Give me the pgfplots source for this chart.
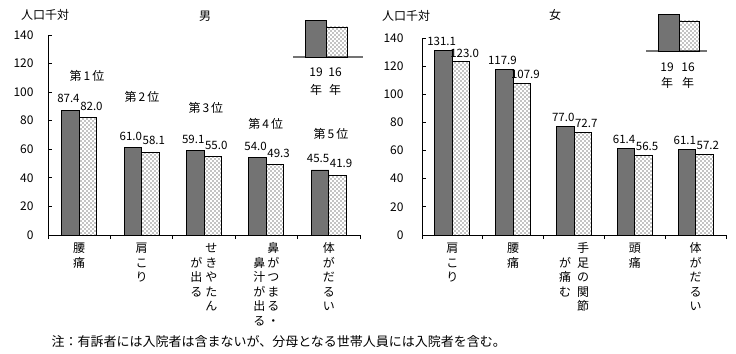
\documentclass[border=0pt]{standalone}
\usepackage{fontspec}
\setmainfont{Noto Sans CJK JP}
\usepackage{pgfplots}
\usepackage{pgfplotstable}
\pgfplotsset{compat=1.18}
\usetikzlibrary{patterns}
\pgfdeclarepatternformonly{sparsedots}{\pgfqpoint{-1bp}{-1bp}}{\pgfqpoint{5bp}{5bp}}{\pgfqpoint{4bp}{4bp}}{%
  \pgfpathcircle{\pgfqpoint{1bp}{1bp}}{0.55bp}%
  \pgfpathcircle{\pgfqpoint{3bp}{3bp}}{0.55bp}%
  \pgfusepath{fill}}
\newcommand{\vone}[1]{\begin{tabular}[t]{@{}c@{}}#1\end{tabular}}
\newcommand{\fs}{\fontsize{12bp}{14.5bp}\selectfont}
\newcommand{\fv}{\fontsize{11.5bp}{14bp}\selectfont}

\pgfplotstableread{
x a b
1 87.4 82.0
2 61.0 58.1
3 59.1 55.0
4 54.0 49.3
5 45.5 41.9
}\male
\pgfplotstableread{
x a b
1 131.1 123.0
2 117.9 107.9
3 77.0 72.7
4 61.4 56.5
5 61.1 57.2
}\female

\pgfplotsset{
  /pgf/number format/assume math mode=true,
  panel/.style={
    scale only axis, clip=false,
    ymin=0, ymax=140, xmin=0.5, xmax=5.5,
    ytick={0,20,...,140},
    axis x line*=bottom, axis y line*=left,
    axis line style={black, line width=0.9bp},
    every tick/.style={black, line width=0.9bp},
    tick align=inside, major tick length=4bp,
    ybar=0pt, bar width=17.5bp,
    xtick={0.5,1.5,...,5.5}, xticklabels={},
    extra x ticks={1,2,3,4,5},
    extra x tick style={major tick length=0pt},
    tick label style={font=\fs},
    xticklabel style={anchor=north, yshift=-4bp},
    nodes near coords={\pgfmathprintnumber[fixed,fixed zerofill,precision=1]{\pgfplotspointmeta}},
    every node near coord/.append style={font=\fv, black, inner xsep=0pt},
  },
  darkbar/.style={fill=black!55, draw=black, line width=0.9bp,
    every node near coord/.append style={xshift=-2bp}},
  lightbar/.style={pattern=sparsedots, draw=black, line width=0.9bp,
    every node near coord/.append style={xshift=3.5bp}},
  minileg/.style={scale only axis, clip=false, axis y line=none, axis x line*=bottom,
    xtick=\empty, ytick=\empty, x axis line style={black!55, line width=1.2bp},
    ymin=0, ymax=37, height=37bp},
}

\begin{document}
\begin{tikzpicture}
\path[use as bounding box] (0,0) rectangle (736bp,354bp);

% ---------- male ----------
\begin{axis}[panel, at={(48bp,119bp)}, anchor=south west, width=312bp, height=200bp,
  yticklabel style={xshift=-11bp},
  every node near coord/.append style={yshift=3.5bp},
  extra x tick labels={
    {\vone{腰\\痛}},
    {\vone{肩\\こ\\り}},
    {\begin{tabular}[t]{@{}c@{\hspace{3bp}}c@{}} &せ\\が&き\\出&や\\る&た\\&ん\end{tabular}},
    {\begin{tabular}[t]{@{}c@{\hspace{2bp}}c@{}} &鼻\\鼻&が\\汁&つ\\が&ま\\出&る\\る&・\end{tabular}},
    {\vone{体\\が\\だ\\る\\い}}}]
\addplot[darkbar] table[x=x,y=a] {\male};
\addplot[lightbar] table[x=x,y=b] {\male};
\node[font=\fs] at (axis cs:1.125,111.3) {第\,1\,位};
\node[font=\fs] at (axis cs:2.006,96.6) {第\,2\,位};
\node[font=\fs] at (axis cs:3.03,89) {第\,3\,位};
\node[font=\fs] at (axis cs:3.99,77.7) {第\,4\,位};
\node[font=\fs] at (axis cs:5.035,70.7) {第\,5\,位};
\end{axis}

% ---------- female ----------
\begin{axis}[panel, at={(422bp,119bp)}, anchor=south west, width=304bp, height=197bp,
  yticklabel style={xshift=-15bp},
  every node near coord/.append style={yshift=1bp},
  extra x tick labels={
    {\vone{肩\\こ\\り}},
    {\vone{腰\\痛}},
    {\begin{tabular}[t]{@{}c@{\hspace{6bp}}c@{}} &手\\が&足\\痛&の\\む&関\\&節\end{tabular}},
    {\vone{頭\\痛}},
    {\vone{体\\が\\だ\\る\\い}}}]
\addplot[darkbar] table[x=x,y=a] {\female};
\addplot[lightbar] table[x=x,y=b] {\female};
\end{axis}

% ---------- legends ----------
\begin{axis}[minileg, at={(293bp,297bp)}, anchor=south west, width=70bp, xmin=0, xmax=70]
\addplot[ybar, bar shift=0pt, bar width=21bp, darkbar] coordinates {(22.5,37)};
\addplot[ybar, bar shift=0pt, bar width=21bp, lightbar] coordinates {(43.5,30)};
\end{axis}
\begin{axis}[minileg, at={(646bp,303bp)}, anchor=south west, width=61bp, xmin=0, xmax=61]
\addplot[ybar, bar shift=0pt, bar width=21bp, darkbar] coordinates {(22.5,37)};
\addplot[ybar, bar shift=0pt, bar width=20bp, lightbar] coordinates {(43,30)};
\end{axis}

\node[font=\fs] at (316bp,282bp) {19};
\node[font=\fs] at (335bp,282bp) {16};
\node[font=\fs] at (316bp,264bp) {年};
\node[font=\fs] at (335bp,264bp) {年};
\node[font=\fs] at (667bp,287bp) {19};
\node[font=\fs] at (688bp,287bp) {16};
\node[font=\fs] at (667bp,271bp) {年};
\node[font=\fs] at (688bp,271bp) {年};

% ---------- titles ----------
\node[font=\fs] at (45bp,339bp) {人口千対};
\node[font=\fs] at (205bp,338bp) {男};
\node[font=\fs] at (406bp,338bp) {人口千対};
\node[font=\fs] at (555bp,339bp) {女};
\node[font=\fontsize{13bp}{15bp}\selectfont, anchor=west] at (48bp,12bp) {注：有訴者には入院者は含まないが、分母となる世帯人員には入院者を含む。};
\end{tikzpicture}
\end{document}
